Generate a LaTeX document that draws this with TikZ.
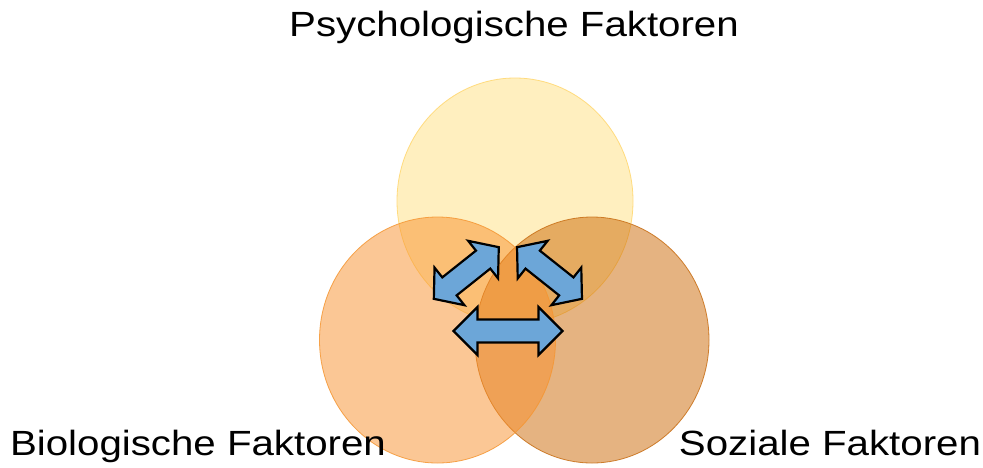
\documentclass[tikz,border=0pt]{standalone}
\usepackage{fontspec}
\newfontfamily\labfont[FakeStretch=1.15]{Liberation Sans}
\definecolor{ctop}{RGB}{255,225,129}
\definecolor{cleft}{RGB}{249,145,45}
\definecolor{cright}{RGB}{205,105,5}
\definecolor{ctopline}{RGB}{255,215,110}
\definecolor{cleftline}{RGB}{245,150,50}
\definecolor{crightline}{RGB}{200,110,20}
\definecolor{arrowblue}{RGB}{108,166,216}
\tikzset{
  venn/.style={fill opacity=0.5, draw opacity=0.85, line width=0.8pt},
  lab/.style={inner sep=0pt, anchor=base, font=\labfont\fontsize{35}{42}\selectfont},
  arrowshape/.style={draw=black, fill=arrowblue, line width=2.2pt, line join=miter},
  pics/dblarrow/.style 2 args={code={
    \draw[arrowshape] (-#1,0) -- (-#1+#2,24) -- (-#1+#2,11.5) -- (#1-#2,11.5) -- (#1-#2,24)
      -- (#1,0) -- (#1-#2,-24) -- (#1-#2,-11.5) -- (-#1+#2,-11.5) -- (-#1+#2,-24) -- cycle;
  }}
}
\begin{document}
\begin{tikzpicture}[x=1pt,y=-1pt]
\useasboundingbox (0,0) rectangle (983,467);
% circles
\coordinate (ctopc) at (515,201);
\coordinate (crightc) at (592,340);
\coordinate (cleftc) at (437.5,340);
\fill[white] (0,0) rectangle (983,467);
\draw[venn, fill=ctop, draw=ctopline] (ctopc) ellipse [x radius=118, y radius=123];
\draw[venn, fill=cright, draw=crightline] (crightc) ellipse [x radius=117, y radius=123];
\draw[venn, fill=cleft, draw=cleftline] (cleftc) ellipse [x radius=118, y radius=123];
% arrows
\pic at (508,331) {dblarrow={54.5}{24}};
\pic[rotate=38.5] at (466.3,273) {dblarrow={41.5}{20}};
\pic[rotate=-38.5] at (549.5,273) {dblarrow={41.5}{20}};
% labels
\node[lab] (psy) at (514,36.5) {Psychologische Faktoren};
\node[lab] (bio) at (198,455) {Biologische Faktoren};
\node[lab] (soz) at (830,455) {Soziale Faktoren};
\end{tikzpicture}
\end{document}
